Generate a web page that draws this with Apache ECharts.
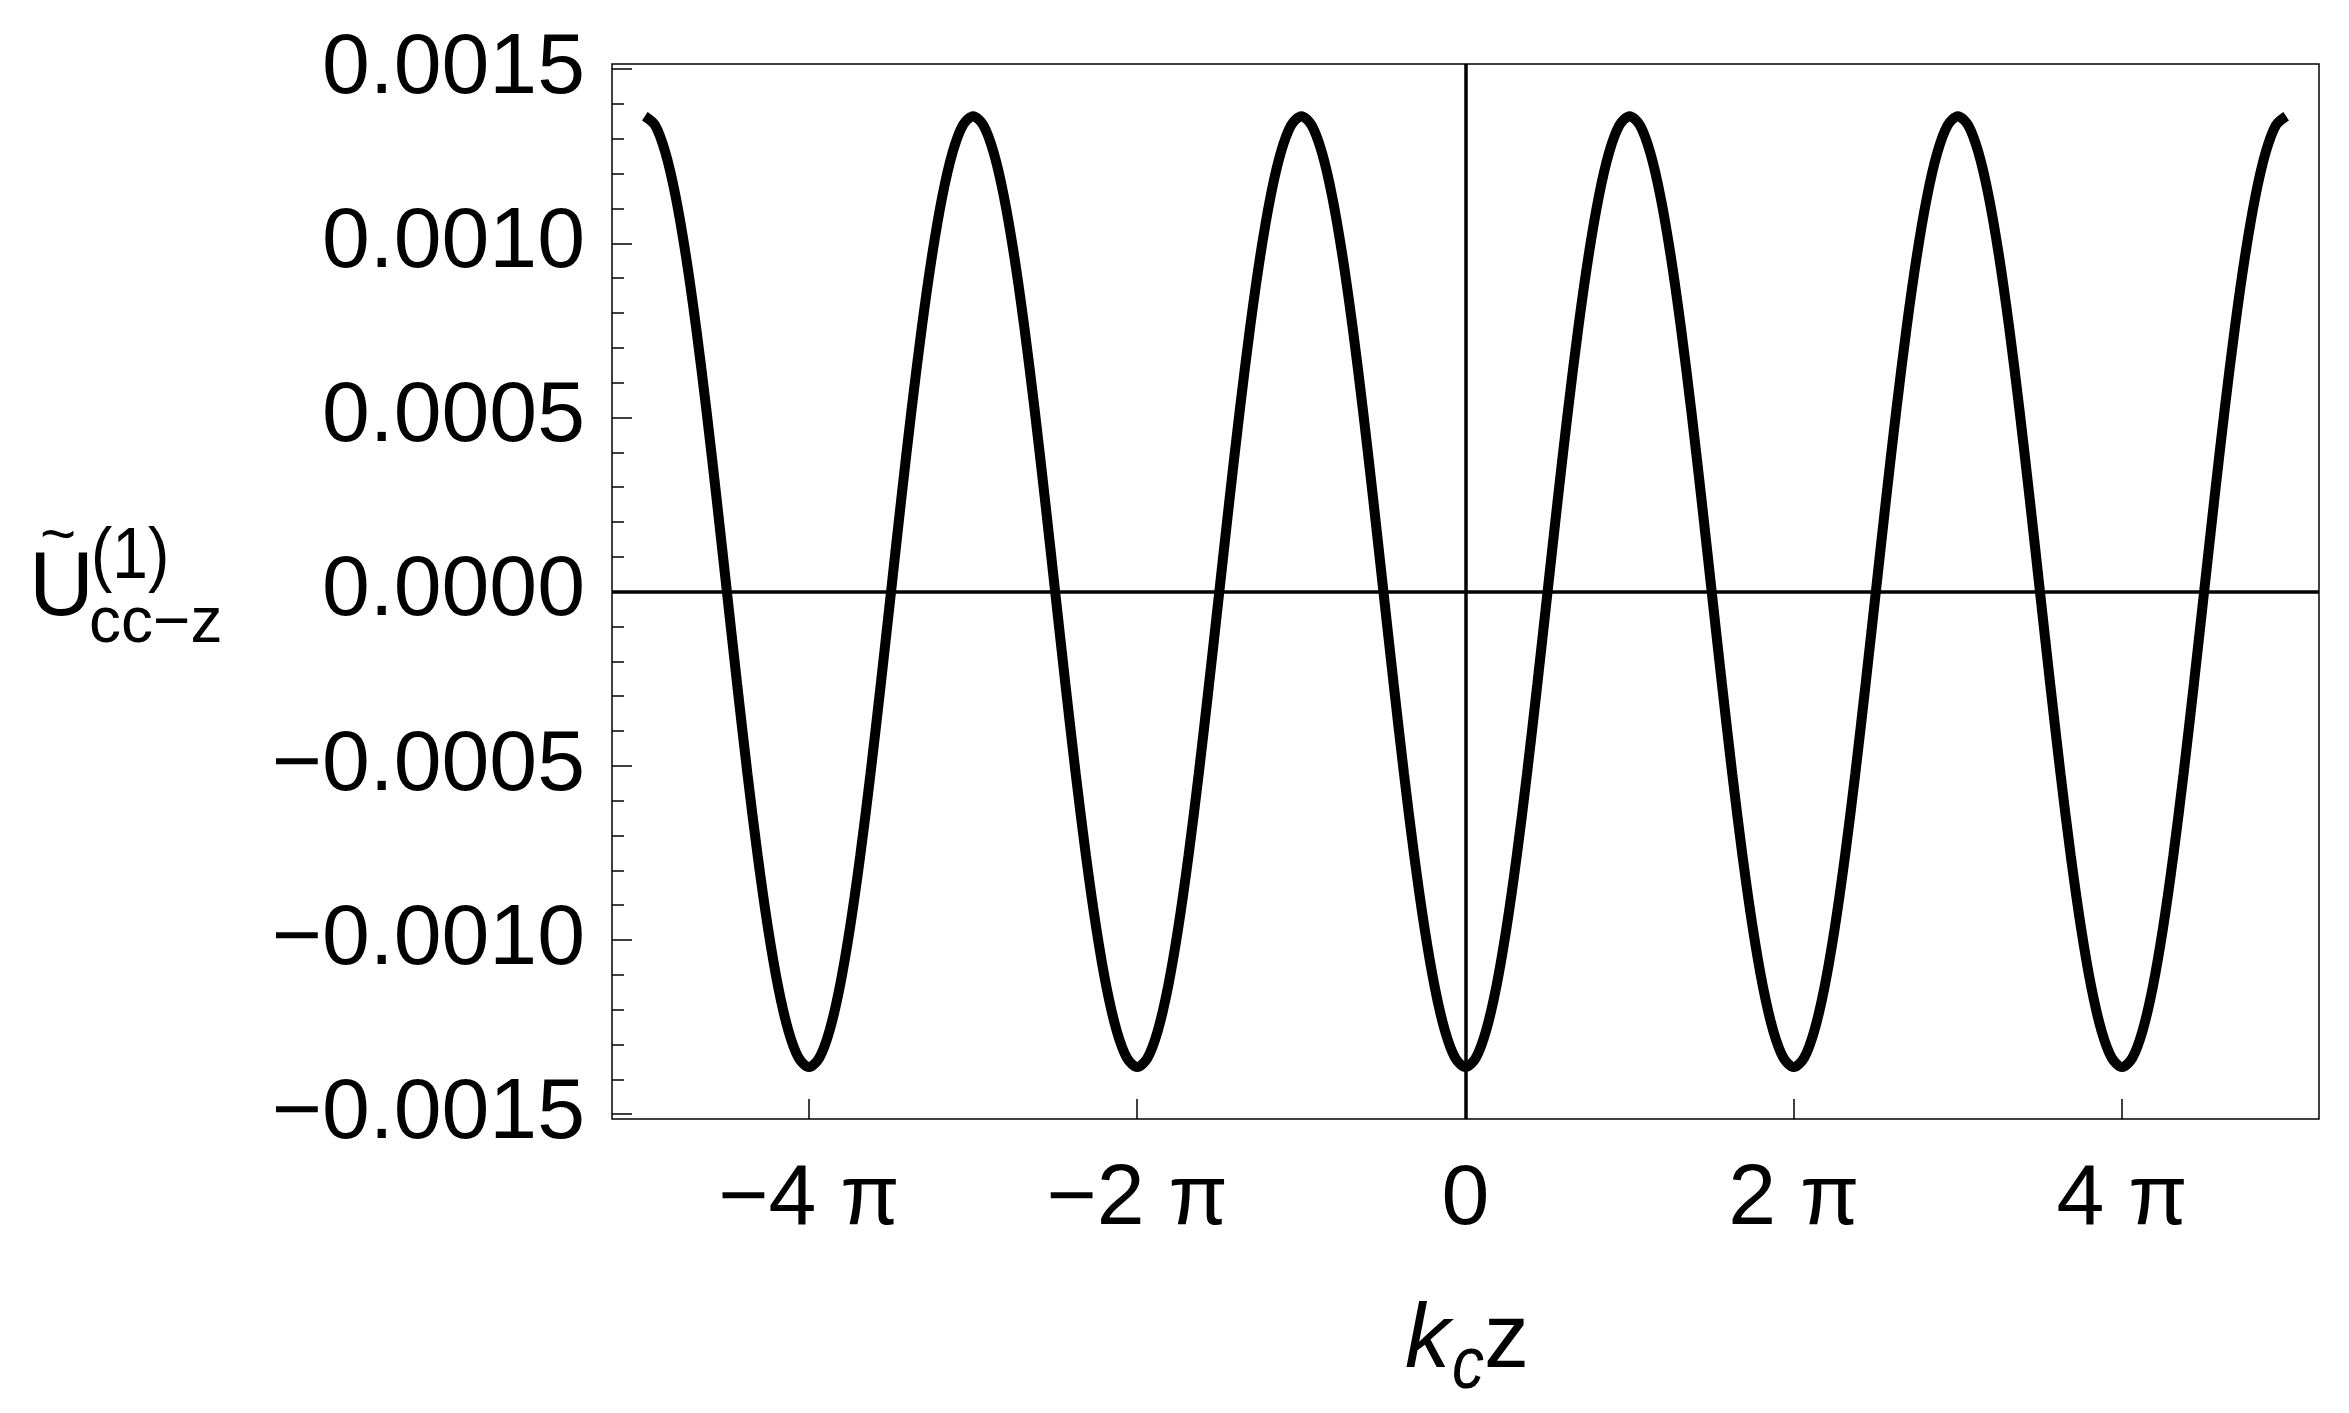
<!DOCTYPE html>
<html>
<head>
<meta charset="utf-8">
<script src="https://cdn.jsdelivr.net/npm/echarts@6/dist/echarts.min.js"></script>
<style>
html,body{margin:0;padding:0;background:#fff;}
#chart{width:2349px;height:1413px;}
</style>
</head>
<body>
<div id="chart"></div>
<script>
// x in units of pi (k_c z / pi)
const xValues = [
  -5, -4.9375, -4.875, -4.8125, -4.75, -4.6875, -4.625, -4.5625, -4.5, -4.4375, -4.375, -4.3125, -4.25, -4.1875, -4.125, -4.0625,
  -4, -3.9375, -3.875, -3.8125, -3.75, -3.6875, -3.625, -3.5625, -3.5, -3.4375, -3.375, -3.3125, -3.25, -3.1875, -3.125, -3.0625,
  -3, -2.9375, -2.875, -2.8125, -2.75, -2.6875, -2.625, -2.5625, -2.5, -2.4375, -2.375, -2.3125, -2.25, -2.1875, -2.125, -2.0625,
  -2, -1.9375, -1.875, -1.8125, -1.75, -1.6875, -1.625, -1.5625, -1.5, -1.4375, -1.375, -1.3125, -1.25, -1.1875, -1.125, -1.0625,
  -1, -0.9375, -0.875, -0.8125, -0.75, -0.6875, -0.625, -0.5625, -0.5, -0.4375, -0.375, -0.3125, -0.25, -0.1875, -0.125, -0.0625,
  0, 0.0625, 0.125, 0.1875, 0.25, 0.3125, 0.375, 0.4375, 0.5, 0.5625, 0.625, 0.6875, 0.75, 0.8125, 0.875, 0.9375,
  1, 1.0625, 1.125, 1.1875, 1.25, 1.3125, 1.375, 1.4375, 1.5, 1.5625, 1.625, 1.6875, 1.75, 1.8125, 1.875, 1.9375,
  2, 2.0625, 2.125, 2.1875, 2.25, 2.3125, 2.375, 2.4375, 2.5, 2.5625, 2.625, 2.6875, 2.75, 2.8125, 2.875, 2.9375,
  3, 3.0625, 3.125, 3.1875, 3.25, 3.3125, 3.375, 3.4375, 3.5, 3.5625, 3.625, 3.6875, 3.75, 3.8125, 3.875, 3.9375,
  4, 4.0625, 4.125, 4.1875, 4.25, 4.3125, 4.375, 4.4375, 4.5, 4.5625, 4.625, 4.6875, 4.75, 4.8125, 4.875, 4.9375,
  5
];
const yValues = [
  0.001365, 0.001339, 0.001261, 0.001135, 0.000965, 0.000758, 0.000522, 0.000266, 0, -0.000266, -0.000522, -0.000758, -0.000965, -0.001135, -0.001261, -0.001339,
  -0.001365, -0.001339, -0.001261, -0.001135, -0.000965, -0.000758, -0.000522, -0.000266, 0, 0.000266, 0.000522, 0.000758, 0.000965, 0.001135, 0.001261, 0.001339,
  0.001365, 0.001339, 0.001261, 0.001135, 0.000965, 0.000758, 0.000522, 0.000266, 0, -0.000266, -0.000522, -0.000758, -0.000965, -0.001135, -0.001261, -0.001339,
  -0.001365, -0.001339, -0.001261, -0.001135, -0.000965, -0.000758, -0.000522, -0.000266, 0, 0.000266, 0.000522, 0.000758, 0.000965, 0.001135, 0.001261, 0.001339,
  0.001365, 0.001339, 0.001261, 0.001135, 0.000965, 0.000758, 0.000522, 0.000266, 0, -0.000266, -0.000522, -0.000758, -0.000965, -0.001135, -0.001261, -0.001339,
  -0.001365, -0.001339, -0.001261, -0.001135, -0.000965, -0.000758, -0.000522, -0.000266, 0, 0.000266, 0.000522, 0.000758, 0.000965, 0.001135, 0.001261, 0.001339,
  0.001365, 0.001339, 0.001261, 0.001135, 0.000965, 0.000758, 0.000522, 0.000266, 0, -0.000266, -0.000522, -0.000758, -0.000965, -0.001135, -0.001261, -0.001339,
  -0.001365, -0.001339, -0.001261, -0.001135, -0.000965, -0.000758, -0.000522, -0.000266, 0, 0.000266, 0.000522, 0.000758, 0.000965, 0.001135, 0.001261, 0.001339,
  0.001365, 0.001339, 0.001261, 0.001135, 0.000965, 0.000758, 0.000522, 0.000266, 0, -0.000266, -0.000522, -0.000758, -0.000965, -0.001135, -0.001261, -0.001339,
  -0.001365, -0.001339, -0.001261, -0.001135, -0.000965, -0.000758, -0.000522, -0.000266, 0, 0.000266, 0.000522, 0.000758, 0.000965, 0.001135, 0.001261, 0.001339,
  0.001365
];
const xTickValues = [-4, -2, 0, 2, 4];
const xTickLabels = ['\u22124 \u03c0', '\u22122 \u03c0', '0', '2 \u03c0', '4 \u03c0'];
const yTickValues = [-0.0015, -0.0010, -0.0005, 0, 0.0005, 0.0010, 0.0015];
const yTickLabels = ['\u22120.0015', '\u22120.0010', '\u22120.0005', '0.0000', '0.0005', '0.0010', '0.0015'];
const yMinorTickValues = [
  -0.0014, -0.0013, -0.0012, -0.0011, -0.0009, -0.0008, -0.0007, -0.0006,
  -0.0004, -0.0003, -0.0002, -0.0001, 0.0001, 0.0002, 0.0003, 0.0004,
  0.0006, 0.0007, 0.0008, 0.0009, 0.0011, 0.0012, 0.0013, 0.0014
];

const FONT = '"Liberation Sans", Arial, Helvetica, sans-serif';
const chart = echarts.init(document.getElementById('chart'), null, {renderer: 'canvas'});
const data = xValues.map((x, i) => [x, yValues[i]]);

function nearestLabel(v, vals, labels) {
  let best = 0;
  vals.forEach((t, i) => { if (Math.abs(t - v) < Math.abs(vals[best] - v)) best = i; });
  return labels[best];
}

const option = {
  animation: false,
  backgroundColor: '#fff',
  grid: {
    left: 612, right: 30, top: 64, bottom: 294,
    show: true, borderColor: '#000', borderWidth: 1.5,
    backgroundColor: 'transparent',
    outerBoundsMode: 'none'
  },
  xAxis: {
    type: 'value', min: -5.2, max: 5.2, position: 'bottom',
    axisLine: {show: false, onZero: false},
    splitLine: {show: false},
    axisTick: {show: true, inside: true, length: 20, customValues: xTickValues,
               lineStyle: {color: '#000', width: 1.5}},
    axisLabel: {show: true, customValues: xTickValues, margin: 38,
                fontSize: 86, fontFamily: FONT, color: '#000',
                formatter: v => nearestLabel(v, xTickValues, xTickLabels)}
  },
  yAxis: [{
    type: 'value', min: -0.001514, max: 0.001515, position: 'left',
    axisLine: {show: false, onZero: false},
    splitLine: {show: false},
    axisTick: {show: true, inside: true, length: 20, customValues: yTickValues,
               lineStyle: {color: '#000', width: 1.5}},
    axisLabel: {show: true, customValues: yTickValues, margin: 27,
                fontSize: 86, fontFamily: FONT, color: '#000',
                formatter: v => nearestLabel(v, yTickValues, yTickLabels)}
  }, {
    type: 'value', min: -0.001514, max: 0.001515, position: 'left', offset: 0,
    axisLine: {show: false, onZero: false},
    splitLine: {show: false},
    axisTick: {show: true, inside: true, length: 12, customValues: yMinorTickValues,
               lineStyle: {color: '#000', width: 1.5}},
    axisLabel: {show: false}
  }],
  series: [{
    type: 'line',
    data: data,
    xAxisIndex: 0, yAxisIndex: 0,
    smooth: 0.3,
    showSymbol: false,
    symbol: 'none',
    lineStyle: {color: '#000', width: 10},
    z: 3,
    markLine: {
      silent: true, z: 1,
      symbol: ['none', 'none'],
      label: {show: false},
      lineStyle: {color: '#000', width: 3.5, type: 'solid'},
      emphasis: {disabled: true},
      data: [{yAxis: 0}, {xAxis: 0}]
    }
  }],
  graphic: [
    {type: 'text', x: 29, y: 590, style: {text: 'U', fontSize: 90, fontFamily: FONT, fill: '#000', align: 'left', verticalAlign: 'middle'}},
    {type: 'text', x: 58, y: 538, style: {text: '~', fontSize: 62, fontFamily: FONT, fill: '#000', align: 'center', verticalAlign: 'middle'}},
    {type: 'text', x: 91, y: 558, scaleY: 1.12, style: {text: '(1)', fontSize: 64, fontFamily: FONT, fill: '#000', align: 'left', verticalAlign: 'middle'}},
    {type: 'text', x: 89, y: 624, style: {text: 'cc\u2212z', fontSize: 64, fontFamily: FONT, fill: '#000', align: 'left', verticalAlign: 'middle'}},
    {type: 'text', x: 1405, y: 1342, style: {text: 'k', fontSize: 90, fontStyle: 'italic', fontFamily: FONT, fill: '#000', align: 'left', verticalAlign: 'middle'}},
    {type: 'text', x: 1452, y: 1368, scaleY: 1.15, style: {text: 'c', fontSize: 64, fontStyle: 'italic', fontFamily: FONT, fill: '#000', align: 'left', verticalAlign: 'middle'}},
    {type: 'text', x: 1484, y: 1342, style: {text: 'z', fontSize: 90, fontFamily: FONT, fill: '#000', align: 'left', verticalAlign: 'middle'}}
  ]
};
chart.setOption(option);
</script>
</body>
</html>
